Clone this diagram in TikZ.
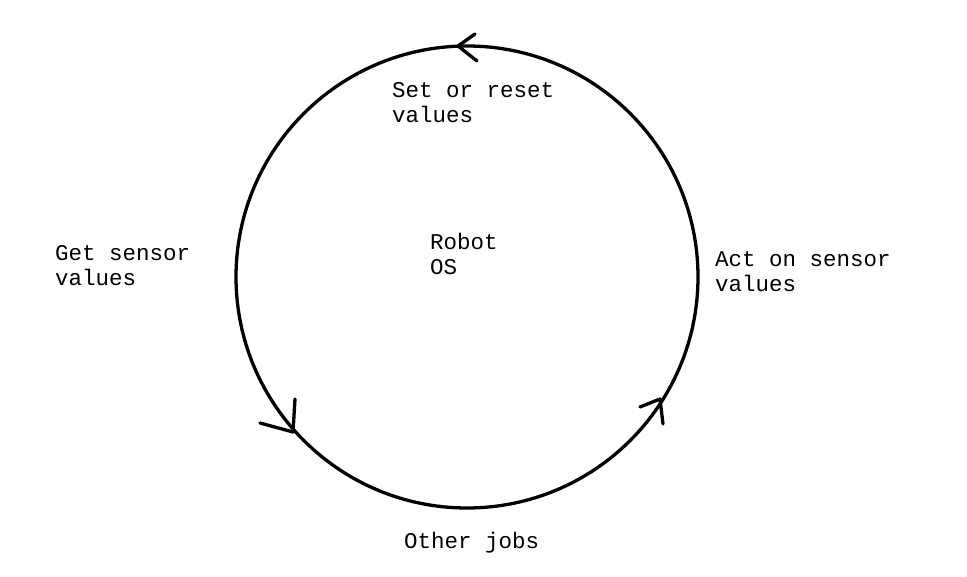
\documentclass[tikz,border=0pt]{standalone}
\usepackage{fontspec}
\setmonofont{Liberation Mono}
\begin{document}
\begin{tikzpicture}[x=1pt,y=-1pt,
  lbl/.style={font=\ttfamily\fontsize{22.5}{25}\selectfont, inner sep=0pt, anchor=base west, align=left},
  stroke/.style={line width=3.3pt, line cap=round, line join=round}]
\useasboundingbox[fill=white] (0,0) rectangle (967,577);
\node[circle, draw, stroke, minimum size=462pt, inner sep=0pt] (ring) at (467,277) {};
% arrowheads
\coordinate (t1) at (458,46);
\coordinate (t1a) at (475,34);
\coordinate (t1b) at (477,61);
\draw[stroke] (t1a) -- (t1) -- (t1b);
\coordinate (t2) at (293,432);
\coordinate (t2a) at (295,399);
\coordinate (t2b) at (260,423);
\draw[stroke] (t2a) -- (t2) -- (t2b);
\coordinate (t3) at (660,399);
\coordinate (t3a) at (640,407);
\coordinate (t3b) at (663,424);
\draw[stroke] (t3a) -- (t3) -- (t3b);
% labels (base anchor = baseline of last line)
\node[lbl] (set) at (392,123) {Set or reset\\values};
\node[lbl] (os) at (430,275) {Robot\\OS};
\node[lbl] (get) at (55,286) {Get sensor\\values};
\node[lbl] (act) at (715,292) {Act on sensor\\values};
\node[lbl] (other) at (404,548) {Other jobs};
\end{tikzpicture}
\end{document}
